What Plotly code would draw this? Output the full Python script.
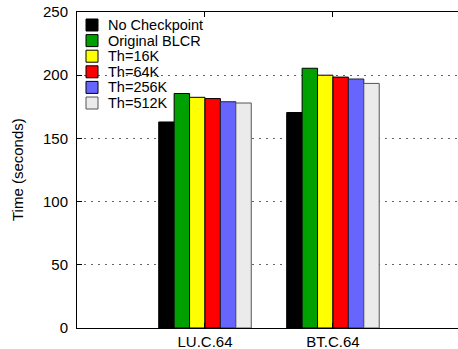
import plotly.graph_objects as go

# Benchmarks on the x axis
benchmarks = ["LU.C.64", "BT.C.64"]

# Execution time (seconds) per configuration, one value per benchmark
series_names = ["No Checkpoint", "Original BLCR", "Th=16K", "Th=64K", "Th=256K", "Th=512K"]
no_checkpoint = [163.0, 170.5]
original_blcr = [185.5, 205.5]
th_16k = [182.5, 200.0]
th_64k = [181.5, 198.5]
th_256k = [179.0, 197.0]
th_512k = [178.0, 193.5]
series_values = [no_checkpoint, original_blcr, th_16k, th_64k, th_256k, th_512k]

colors = ["#000000", "#00A000", "#FFFF00", "#FF0000", "#6666FF", "#EBEBEB"]
outline = ["#000000", "#000000", "#000000", "#000000", "#222244", "#555555"]

y_ticks = [0, 50, 100, 150, 200, 250]

W, H = 458, 349
ML, MR, MT, MB = 77, 0, 12, 21
PW, PH = W - ML - MR, H - MT - MB
FONT = "Liberation Sans, Arial, Helvetica, sans-serif"


def px_x(p):
    return (p - ML) / PW


def px_y(p):
    return (H - MB - p) / PH


fig = go.Figure()
for name, vals, col, oc in zip(series_names, series_values, colors, outline):
    fig.add_trace(go.Bar(
        x=benchmarks, y=vals, name=name,
        marker=dict(color=col, line=dict(color=oc, width=1)),
        showlegend=False,
    ))

# Legend drawn as boxes + labels in the upper-left corner of the plot
shapes = []
annotations = []
for i, (name, col, oc) in enumerate(zip(series_names, colors, outline)):
    cy = 25 + i * 15.6
    shapes.append(dict(
        type="rect", xref="paper", yref="paper",
        x0=px_x(86), x1=px_x(98), y0=px_y(cy + 6), y1=px_y(cy - 6),
        fillcolor=col, line=dict(color="#000000" if i < 5 else "#555555", width=1),
    ))
    annotations.append(dict(
        xref="paper", yref="paper", x=px_x(107), y=px_y(cy),
        text=name, showarrow=False, xanchor="left", yanchor="middle",
        font=dict(family=FONT, size=14.5, color="#000000"),
        borderpad=0,
    ))

annotations.append(dict(
    xref="paper", yref="paper", x=px_x(17), y=px_y(170),
    text="Time (seconds)", showarrow=False, textangle=-90,
    xanchor="center", yanchor="middle",
    font=dict(family=FONT, size=15, color="#000000"),
))

fig.update_layout(
    width=W, height=H,
    margin=dict(l=ML, r=MR, t=MT, b=MB, pad=0),
    paper_bgcolor="white", plot_bgcolor="white",
    barmode="group", bargap=0.277, bargroupgap=0,
    font=dict(family=FONT, size=15, color="#000000"),
    shapes=shapes, annotations=annotations,
    showlegend=False,
)
fig.update_xaxes(
    type="category", range=[-1, 1.977], automargin=False,
    showline=True, linecolor="#000000", linewidth=1, mirror="ticks",
    ticks="inside", ticklen=5, tickcolor="#000000",
    showgrid=False, zeroline=False,
    tickfont=dict(family=FONT, size=15),
)
fig.update_yaxes(
    range=[0, 250], tickvals=y_ticks, automargin=False,
    showline=True, linecolor="#000000", linewidth=1,
    ticks="inside", ticklen=5, tickcolor="#000000",
    showgrid=True, gridcolor="#666666", gridwidth=1, griddash="2px,5px",
    zeroline=False, ticklabelstandoff=5,
    tickfont=dict(family=FONT, size=15),
)

fig.write_html("out.html")
